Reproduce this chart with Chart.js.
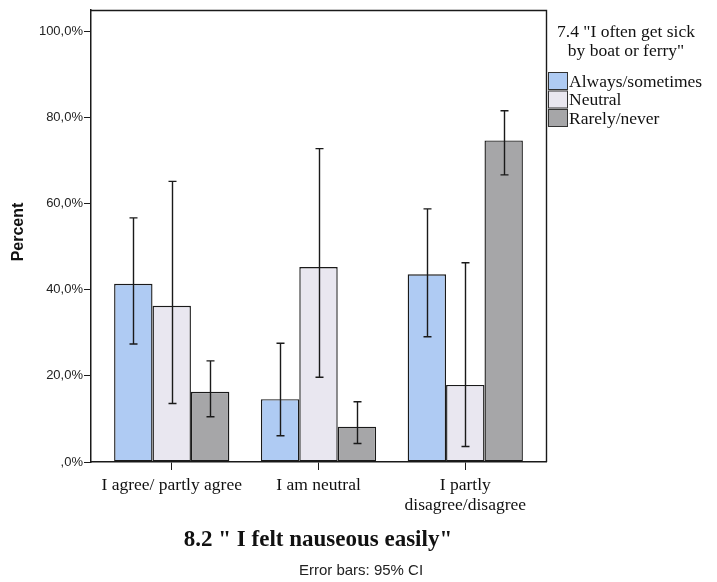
<!DOCTYPE html>
<html>
<head>
<meta charset="utf-8">
<script src="https://cdn.jsdelivr.net/npm/chart.js@4.4.1/dist/chart.umd.min.js"></script>
<style>
  html, body { margin: 0; padding: 0; background: #fff; }
  #wrap { width: 717px; height: 582px; position: relative; }
</style>
</head>
<body>
<div id="wrap"><canvas id="c" width="717" height="582"></canvas></div>
<script>
// Response categories for item 8.2 (x axis)
const categories = ['I agree/ partly agree', 'I am neutral', ['I partly', 'disagree/disagree']];
const categoryPositions = [0, 1, 2];

// Groups of item 7.4
const seriesNames = ['Always/sometimes', 'Neutral', 'Rarely/never'];

// Percent per group
const alwaysSometimes = [41.4, 14.6, 43.6];
const neutral = [36.3, 45.3, 17.9];
const rarelyNever = [16.3, 8.2, 74.7];

// 95% confidence interval bounds
const alwaysSometimesLow = [27.4, 6.1, 29.1];
const alwaysSometimesHigh = [56.7, 27.6, 58.8];
const neutralLow = [13.6, 19.7, 3.6];
const neutralHigh = [65.2, 72.8, 46.3];
const rarelyNeverLow = [10.5, 4.3, 66.7];
const rarelyNeverHigh = [23.5, 14.0, 81.6];

// Y axis ticks
const yTicks = [0, 20, 40, 60, 80, 100];

const seriesColors = ['#afcbf3', '#e9e7f0', '#a6a6a8'];

const toPoints = (vals) => vals.map((v, i) => ({ x: categoryPositions[i], y: v }));

const datasets = [
  { label: seriesNames[0], data: toPoints(alwaysSometimes), low: alwaysSometimesLow, high: alwaysSometimesHigh },
  { label: seriesNames[1], data: toPoints(neutral), low: neutralLow, high: neutralHigh },
  { label: seriesNames[2], data: toPoints(rarelyNever), low: rarelyNeverLow, high: rarelyNeverHigh }
].map((d, i) => Object.assign(d, {
  backgroundColor: seriesColors[i],
  borderColor: '#1a1a1a',
  borderWidth: 1.4,
  borderSkipped: false,
  barPercentage: 1.0,
  categoryPercentage: 0.785
}));

// Whiskers for the confidence intervals
const errorBars = {
  id: 'errorBars',
  afterDatasetsDraw(chart) {
    const ctx = chart.ctx;
    const y = chart.scales.y;
    ctx.save();
    ctx.strokeStyle = '#1a1a1a';
    ctx.lineWidth = 1.4;
    chart.data.datasets.forEach((ds, di) => {
      const meta = chart.getDatasetMeta(di);
      meta.data.forEach((bar, i) => {
        const x = Math.round(bar.x) + 0.5;
        const yl = y.getPixelForValue(ds.low[i]);
        const yh = y.getPixelForValue(ds.high[i]);
        ctx.beginPath();
        ctx.moveTo(x, yl); ctx.lineTo(x, yh);
        ctx.moveTo(x - 4, yl); ctx.lineTo(x + 4, yl);
        ctx.moveTo(x - 4, yh); ctx.lineTo(x + 4, yh);
        ctx.stroke();
      });
    });
    ctx.restore();
  }
};

// Frame, axis titles, legend and footnote
const decorations = {
  id: 'decorations',
  afterDraw(chart) {
    const ctx = chart.ctx;
    const a = chart.chartArea;
    ctx.save();
    ctx.strokeStyle = '#1a1a1a';
    ctx.lineWidth = 1.4;
    ctx.beginPath();
    ctx.moveTo(a.left, a.top + 0.5);
    ctx.lineTo(a.right + 0.5, a.top + 0.5);
    ctx.lineTo(a.right + 0.5, a.bottom);
    ctx.stroke();

    ctx.fillStyle = '#111';
    // y axis title
    ctx.save();
    ctx.translate(19, 232);
    ctx.rotate(-Math.PI / 2);
    ctx.font = 'bold 16px "Liberation Sans", Arial, sans-serif';
    ctx.textAlign = 'center';
    ctx.textBaseline = 'middle';
    ctx.fillText('Percent', 0, 0);
    ctx.restore();

    // x axis title
    ctx.font = 'bold 23px "Liberation Serif", "Times New Roman", serif';
    ctx.textAlign = 'center';
    ctx.textBaseline = 'middle';
    ctx.fillText('8.2 " I felt nauseous easily"', 318, 540);

    // footnote
    ctx.font = '15px "Liberation Sans", Arial, sans-serif';
    ctx.fillStyle = '#222';
    ctx.fillText('Error bars: 95% CI', 361, 571);

    // legend
    ctx.fillStyle = '#111';
    ctx.font = '17.5px "Liberation Serif", "Times New Roman", serif';
    ctx.textAlign = 'center';
    ctx.fillText('7.4 "I often get sick', 626, 32);
    ctx.fillText('by boat or ferry"', 626, 51);
    ctx.textAlign = 'left';
    chart.data.datasets.forEach((ds, i) => {
      const cy = 81 + i * 18.5;
      ctx.fillStyle = ds.backgroundColor;
      ctx.fillRect(548, cy - 9, 20, 18);
      ctx.strokeStyle = '#333';
      ctx.lineWidth = 1;
      ctx.strokeRect(548.5, cy - 8.5, 19, 17);
      ctx.fillStyle = '#111';
      ctx.fillText(ds.label, 569, cy + 1);
    });
    ctx.restore();
  }
};

new Chart(document.getElementById('c'), {
  type: 'bar',
  data: { datasets },
  options: {
    responsive: false,
    animation: false,
    layout: { padding: { top: 10, right: 171, left: 0, bottom: 0 } },
    plugins: { legend: { display: false }, tooltip: { enabled: false } },
    scales: {
      x: {
        type: 'linear',
        min: -0.55,
        max: 2.55,
        offset: false,
        afterBuildTicks: (s) => { s.ticks = categoryPositions.map(v => ({ value: v })); },
        afterFit: (s) => { s.height = 120; },
        grid: { display: true, drawOnChartArea: false, drawTicks: true, tickLength: 8, color: '#1a1a1a', offset: false },
        border: { display: true, color: '#1a1a1a', width: 1.5 },
        ticks: {
          autoSkip: false, maxRotation: 0, minRotation: 0, padding: 5,
          color: '#111',
          font: { family: '"Liberation Serif", "Times New Roman", serif', size: 17.5, lineHeight: 1.15 },
          callback: (v) => categories[categoryPositions.indexOf(v)]
        }
      },
      y: {
        min: 0,
        max: 105,
        afterBuildTicks: (s) => { s.ticks = yTicks.map(v => ({ value: v })); },
        afterFit: (s) => { s.width = 91; },
        grid: { display: true, drawOnChartArea: false, drawTicks: true, tickLength: 7, color: '#1a1a1a' },
        border: { display: true, color: '#1a1a1a', width: 1.5 },
        ticks: {
          padding: 1,
          color: '#222',
          font: { family: '"Liberation Sans", Arial, sans-serif', size: 13 },
          callback: (v) => (v === 0 ? '' : String(v)) + ',0%'
        }
      }
    }
  },
  plugins: [errorBars, decorations]
});
</script>
</body>
</html>
